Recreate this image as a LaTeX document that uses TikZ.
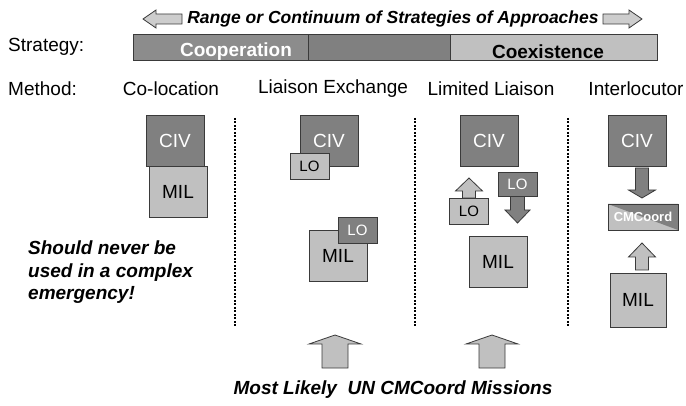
\documentclass[tikz,border=0pt]{standalone}
\usepackage{fontspec}
\setmainfont{Liberation Sans}
\definecolor{civgray}{HTML}{808080}
\definecolor{milgray}{HTML}{C0C0C0}
\definecolor{bargray}{HTML}{8C8C8C}
\definecolor{rimgray}{HTML}{3A3A3A}
\tikzset{
  civbox/.style={draw=rimgray, fill=civgray, text=white, line width=0.8pt,
    minimum width=58pt, minimum height=51pt, inner sep=0pt,
    font=\fontsize{19}{19}\selectfont},
  milbox/.style={civbox, fill=milgray, text=black},
  lobox/.style={draw=rimgray, fill=milgray, line width=0.8pt,
    minimum width=39pt, minimum height=26pt, inner sep=0pt,
    font=\fontsize{15}{15}\selectfont},
  lodark/.style={lobox, fill=civgray, text=white},
  barpart/.style={draw=rimgray, line width=0.8pt, minimum height=26pt, inner sep=0pt},
  bartext/.style={font=\bfseries\fontsize{19}{19}\selectfont, inner sep=0pt},
  rowtext/.style={font=\fontsize{19}{19}\selectfont, inner sep=0pt},
  notetext/.style={font=\bfseries\itshape\fontsize{19}{22.5}\selectfont, inner sep=0pt},
  sepline/.style={line width=1.2pt, dash pattern=on 2pt off 1.5pt},
  blockline/.style={draw=rimgray, line width=0.8pt, line join=miter}
}
% x, tip y, head base y, tail y, head half width, shaft half width, fill
\newcommand{\blockarrow}[7]{
  \draw [blockline, fill=#7] (#1,#2) -- (#1+#5,#3) -- (#1+#6,#3) -- (#1+#6,#4)
    -- (#1-#6,#4) -- (#1-#6,#3) -- (#1-#5,#3) -- cycle
}
% tip x, y, head base x, tail x, head half height, shaft half height, fill
\newcommand{\sidearrow}[7]{
  \draw [blockline, fill=#7] (#1,#2) -- (#3,#2-#5) -- (#3,#2-#6) -- (#4,#2-#6)
    -- (#4,#2+#6) -- (#3,#2+#6) -- (#3,#2+#5) -- cycle
}

\begin{document}
\begin{tikzpicture}[x=1pt, y=-1pt]
\useasboundingbox (0,0) rectangle (686,406);

% range of strategies
\sidearrow{143}{19}{156}{182}{9}{5}{milgray!80!white};
\node [notetext, font=\bfseries\itshape\fontsize{17.5}{17.5}\selectfont] (range) at (393,19)
  {Range or Continuum of Strategies of Approaches};
\sidearrow{642}{19}{629}{603}{9}{5}{milgray!80!white};

% strategy bar
\node [rowtext, anchor=west] (strategy) at (8,47) {Strategy:};
\node [barpart, fill=bargray, minimum width=175pt] (coop) at (220.5,47) {};
\node [barpart, fill=civgray, minimum width=142pt] (mixed) at (379,47) {};
\node [barpart, fill=milgray, minimum width=207pt] (coex) at (553.5,47) {};
\node [bartext, text=white] (cooptext) at (236,52) {Cooperation};
\node [bartext] (coextext) at (548,52) {Coexistence};

% methods
\node [rowtext, anchor=west] (method) at (8,89) {Method:};
\node [rowtext] (m1) at (171,89) {Co-location};
\node [rowtext] (m2) at (333,89) {Liaison Exchange};
\node [rowtext] (m3) at (491,89) {Limited Liaison};
\node [rowtext] (m4) at (636,89) {Interlocutor};

% separators
\draw [sepline] (235,118) -- (235,328);
\draw [sepline] (415,118) -- (415,328);
\draw [sepline] (568,118) -- (568,328);

% co-location
\node [civbox] (civ1) at (175,140.5) {CIV};
\node [milbox] (mil1) at (178,191.5) {MIL};
\node [notetext, anchor=west, align=left] (warn) at (28,272.5)
  {Should never be\\used in a complex\\emergency!};

% liaison exchange
\node [civbox] (civ2) at (329,140.5) {CIV};
\node [lobox] (lo2a) at (309.5,166) {LO};
\node [milbox] (mil2) at (338,256) {MIL};
\node [lodark] (lo2b) at (357.5,230.5) {LO};

% limited liaison
\node [civbox] (civ3) at (489,140.5) {CIV};
\blockarrow{469}{178}{191}{198}{13.5}{6.5}{milgray};
\node [lobox] (lo3a) at (469,211.5) {LO};
\blockarrow{517.5}{223}{210}{196}{12.5}{7}{civgray};
\node [lodark, minimum height=24pt] (lo3b) at (517.5,184.5) {LO};
\node [milbox] (mil3) at (498,262) {MIL};

% interlocutor
\node [civbox] (civ4) at (637,140.5) {CIV};
\blockarrow{642}{198}{190}{168}{13.5}{6.5}{civgray};
\node [draw=rimgray, line width=0.8pt, fill=milgray, minimum width=70pt, minimum height=26pt,
  inner sep=0pt, text=white, font=\bfseries\fontsize{13}{13}\selectfont,
  path picture={\fill [civgray] (path picture bounding box.north west)
    -- (path picture bounding box.north east) -- (path picture bounding box.south east) -- cycle;}]
  (cmc) at (643,217) {\raisebox{-3pt}{CMCoord}};
\blockarrow{642}{243}{257}{270}{13.5}{6.5}{milgray};
\node [milbox, minimum width=56pt, minimum height=54pt] (mil4) at (638,300) {MIL};

% most likely
\blockarrow{335}{335}{344}{368}{26}{13}{milgray};
\blockarrow{492}{335}{344}{368}{26}{13}{milgray};
\node [notetext] (likely) at (393,390) {Most Likely\ \ UN CMCoord Missions};

\end{tikzpicture}
\end{document}
